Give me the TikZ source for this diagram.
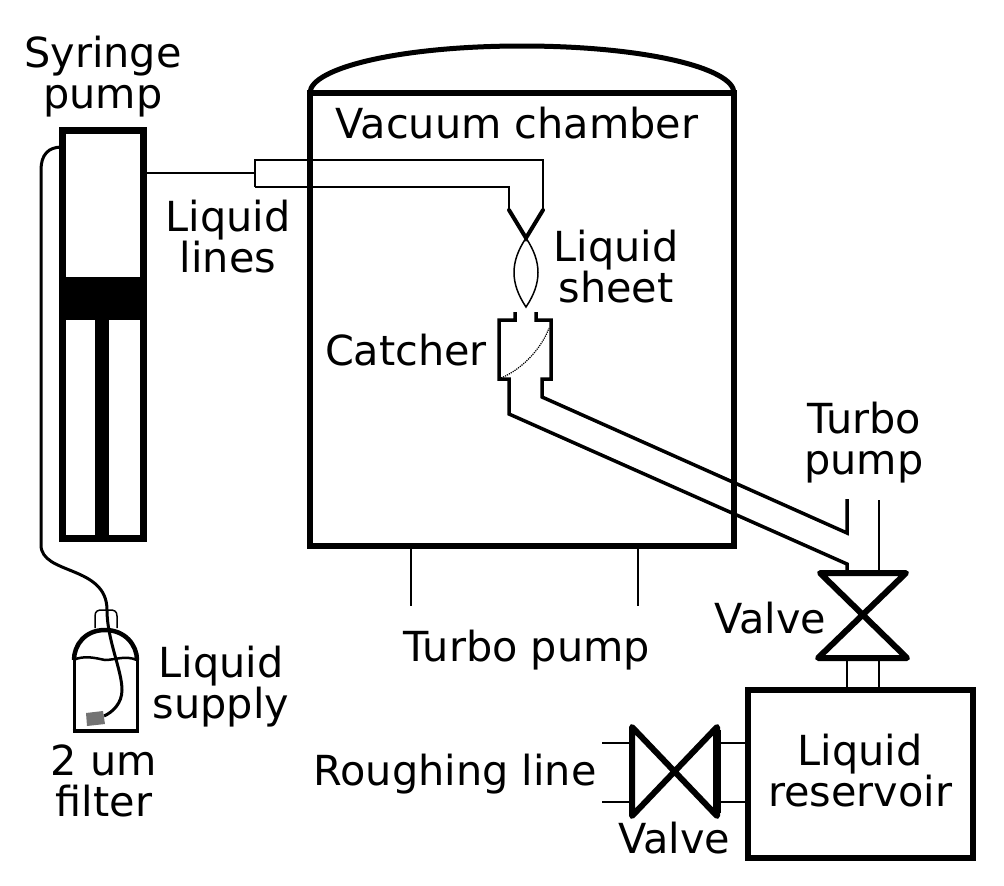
\documentclass[tikz,border=0pt]{standalone}
\usepackage{fontspec}
\setmainfont{DejaVu Sans}
\usepackage{tikz}
\definecolor{filtergray}{RGB}{115,115,115}

\begin{document}
\begin{tikzpicture}[x=1pt,y=-1pt,line join=miter,
  wall/.style={line width=5.5pt},
  valveline/.style={line width=6pt,line cap=round,line join=round},
  pipe/.style={line width=3.5pt},
  thinline/.style={line width=2.5pt},
  tubeline/.style={line width=2pt},
  lbl/.style={align=center,inner sep=0pt,font=\fontsize{41.4}{41}\selectfont}]
\useasboundingbox (0,0) rectangle (1004,886);

\draw[wall] (310,93) -- (310,546) -- (734,546) -- (734,93) -- cycle;
\draw[line width=5pt] (310,93) .. controls (310,68) and (400,46) .. (522,46) .. controls (644,46) and (734,68) .. (734,93);
\draw[thinline] (411,546) -- (411,606);
\draw[thinline] (638,546) -- (638,606);

\draw[line width=7pt] (62.5,130.5) rectangle (143.5,538.5);
\fill (66,277) rectangle (140,320);
\fill (95,320) rectangle (109,535);

\draw[tubeline] (146,173) -- (255,173);
\draw[tubeline] (255,187) -- (255,160) -- (543,160) -- (543,210);
\draw[tubeline] (255,187) -- (509,187) -- (509,210);
\draw[line width=4pt,line cap=round] (509,210) -- (526,238) -- (543,210);
\draw[line width=1.5pt] (526,238) .. controls (510,262) and (510,283) .. (526,307) .. controls (542,283) and (542,262) .. (526,238);

\draw[pipe] (515,312) -- (515,320) -- (499,320) -- (499,379) -- (509,379) -- (509,414) -- (847,564) -- (847,572);
\draw[pipe] (536,312) -- (536,320) -- (551,320) -- (551,379) -- (542,379) -- (542,397) -- (847,533) -- (847,499);
\draw[line width=1.2pt,densely dotted] (501,378) .. controls (525,368) and (543,345) .. (549,328);
\draw[thinline] (879,500) -- (879,573);

\draw[valveline] (820,573) -- (906,573) -- (818,658) -- (907,658) -- cycle;
\draw[thinline] (847,658) -- (847,690);
\draw[thinline] (879,658) -- (879,690);
\draw[wall] (748,690) rectangle (973,858);

\draw[valveline] (632,727) -- (632,816) -- (717,727) -- (717,816) -- cycle;
\draw[line width=8pt] (717,730) -- (717,813);
\draw[tubeline] (602,743) -- (632,743);
\draw[tubeline] (602,802) -- (632,802);
\draw[tubeline] (717,743) -- (748,743);
\draw[tubeline] (717,802) -- (748,802);

\draw[line width=3pt] (62,147) .. controls (48,147) and (41,155) .. (41,170) -- (41,545) .. controls (41,575) and (107,565) .. (107,610) .. controls (107,640) and (122,670) .. (122,690) .. controls (122,703) and (113,712) .. (104,716);
\draw[line width=2.5pt] (73,660) .. controls (85,655) and (95,658) .. (105,660) .. controls (115,660) and (125,655) .. (137,660);
\draw[line width=4.5pt] (74,660) .. controls (74,645) and (85,630) .. (105,630) .. controls (125,630) and (137,645) .. (137,660);
\draw[line width=3pt] (74,660) -- (74,731) -- (137,731) -- (137,660);
\draw[line width=4pt] (72.5,731) -- (138.5,731);
\draw[line width=1.5pt] (95,628) -- (95,616) .. controls (95,611) and (98,610) .. (102,610) -- (110,610) .. controls (114,610) and (117,611) .. (117,616) -- (117,628);
\fill[filtergray] (86,713) -- (103,711) -- (105,724) -- (87,726) -- cycle;

\node[lbl] (syringelbl) at (103,77) {Syringe\\pump};
\node[lbl] (chamberlbl) at (517,123) {Vacuum chamber};
\node[lbl] (lineslbl) at (228,237) {Liquid\\lines};
\node[lbl] (sheetlbl) at (616,267) {Liquid\\sheet};
\node[lbl] (catcherlbl) at (406,350) {Catcher};
\node[lbl] (turbolbl) at (864,443) {Turbo\\pump};
\node[lbl] (valvelbl) at (770,618) {Valve};
\node[lbl] (turbolbltwo) at (527,650) {Turbo pump};
\node[lbl] (supplylbl) at (221,687) {Liquid\\supply};
\node[lbl] (filterlbl) at (104,781) {2 um\\filter};
\node[lbl] (roughlbl) at (455,774) {Roughing line};
\node[lbl] (reservoirlbl) at (860,771) {Liquid\\reservoir};
\node[lbl] (valvelbltwo) at (674,838) {Valve};
\end{tikzpicture}
\end{document}
